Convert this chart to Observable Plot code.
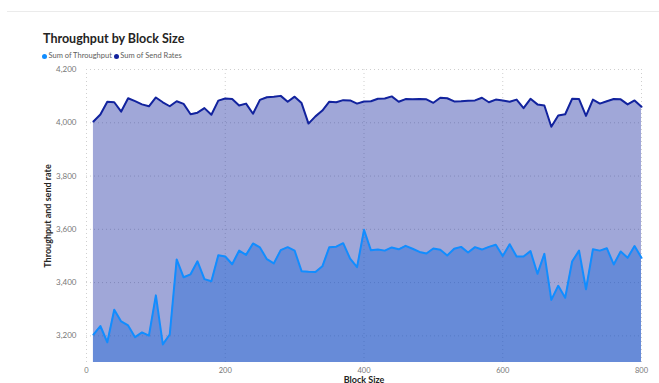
<!DOCTYPE html>
<html>
<head>
<meta charset="utf-8">
<script src="https://cdn.jsdelivr.net/npm/d3@7"></script>
<script src="https://cdn.jsdelivr.net/npm/@observablehq/plot@0.6"></script>
<style>
  html, body { margin: 0; padding: 0; background: #fff; }
  #wrap { position: relative; width: 659px; height: 383px; overflow: hidden; font-family: Lato, "Open Sans", sans-serif; }
  #topline { position: absolute; top: 11px; left: 7px; right: 0; height: 1px; background: #ebebeb; }
  #title { position: absolute; left: 43px; top: 32px; font-size: 12.5px; font-weight: 700; color: #252423; line-height: 14px; white-space: nowrap; }
  #legend { position: absolute; left: 42px; top: 51px; font-size: 7.5px; color: #605e5c; line-height: 10px; white-space: nowrap; display: flex; align-items: center; }
  .dot { display: inline-block; width: 5px; height: 5px; border-radius: 50%; margin-right: 1.5px; }
  .item { display: inline-flex; align-items: center; margin-right: 2px; }
  #chart { position: absolute; left: 0; top: 62px; }
</style>
</head>
<body>
<div id="wrap">
  <div id="topline"></div>
  <div id="title">Throughput by Block Size</div>
  <div id="legend"></div>
  <div id="chart"></div>
</div>
<script>
const blockSize = [10,20,30,40,50,60,70,80,90,100,110,120,130,140,150,160,170,180,190,200,
  210,220,230,240,250,260,270,280,290,300,310,320,330,340,350,360,370,380,390,400,
  410,420,430,440,450,460,470,480,490,500,510,520,530,540,550,560,570,580,590,600,
  610,620,630,640,650,660,670,680,690,700,710,720,730,740,750,760,770,780,790,800];

const throughput = [3205,3237,3176,3298,3254,3239,3195,3213,3201,3352,3168,3205,3487,3420,3431,3480,3413,3405,3503,3498,
  3469,3520,3504,3547,3532,3488,3472,3522,3533,3520,3443,3441,3440,3461,3533,3535,3548,3490,3458,3598,
  3521,3524,3520,3532,3525,3538,3527,3515,3509,3528,3523,3502,3527,3534,3513,3533,3524,3534,3542,3500,
  3544,3498,3498,3518,3433,3508,3335,3388,3343,3479,3520,3375,3525,3520,3529,3468,3517,3493,3537,3493];

const sendRates = [4005,4031,4079,4077,4042,4092,4081,4069,4062,4095,4077,4062,4081,4071,4032,4038,4055,4030,4083,4091,
  4089,4065,4072,4034,4086,4096,4098,4101,4079,4098,4074,3997,4024,4046,4079,4077,4085,4084,4072,4080,
  4081,4090,4091,4099,4079,4089,4088,4089,4088,4075,4094,4092,4080,4081,4083,4084,4094,4077,4087,4084,
  4079,4087,4055,4090,4069,4065,3985,4027,4032,4090,4089,4026,4087,4072,4081,4089,4088,4069,4084,4060];

const seriesNames = ["Sum of Throughput", "Sum of Send Rates"];
const seriesColors = ["#118DFF", "#12239E"];
const yTicks = [3200, 3400, 3600, 3800, 4000, 4200];
const xTicks = [0, 200, 400, 600, 800];

const data = blockSize.map((b, i) => ({b, t: throughput[i], s: sendRates[i]}));

const legend = document.getElementById("legend");
seriesNames.forEach((n, i) => {
  const it = document.createElement("span");
  it.className = "item";
  it.innerHTML = `<span class="dot" style="background:${seriesColors[i]}"></span>${n}`;
  legend.appendChild(it);
});

const fmt = d3.format(",");
const chart = Plot.plot({
  width: 659,
  height: 321,
  marginLeft: 86,
  marginRight: 18,
  marginTop: 7,
  marginBottom: 21,
  style: {fontFamily: "Lato, 'Open Sans', sans-serif", background: "#fff"},
  x: {domain: [0, 800]},
  y: {domain: [3100, 4200]},
  marks: [
    Plot.gridY(yTicks, {stroke: "#cfcfcf", strokeOpacity: 1, strokeDasharray: "1,3"}),
    Plot.gridX(xTicks, {stroke: "#cfcfcf", strokeOpacity: 1, strokeDasharray: "1,3"}),
    Plot.areaY(data, {x: "b", y: "t", fill: seriesColors[0], fillOpacity: 0.4, clip: true}),
    Plot.areaY(data, {x: "b", y: "s", fill: seriesColors[1], fillOpacity: 0.4, clip: true}),
    Plot.lineY(data, {x: "b", y: "t", stroke: seriesColors[0], strokeWidth: 2}),
    Plot.lineY(data, {x: "b", y: "s", stroke: seriesColors[1], strokeWidth: 2}),
    Plot.axisY(yTicks, {tickSize: 0, tickPadding: 10, tickFormat: fmt, fontSize: 8, color: "#777",
      label: "Throughput and send rate", labelAnchor: "center", labelOffset: 42, labelArrow: "none"}),
    Plot.axisX(xTicks, {tickSize: 0, tickPadding: 5, fontSize: 7.5, color: "#777",
      label: "Block Size", labelAnchor: "center", labelOffset: 20, labelArrow: "none"})
  ]
});
document.getElementById("chart").appendChild(chart);
chart.querySelectorAll("g[aria-label='y-axis label'] text, g[aria-label='x-axis label'] text").forEach(t => {
  t.setAttribute("font-weight", "700");
  t.setAttribute("fill", "#252423");
  t.setAttribute("font-size", "9");
});
</script>
</body>
</html>
